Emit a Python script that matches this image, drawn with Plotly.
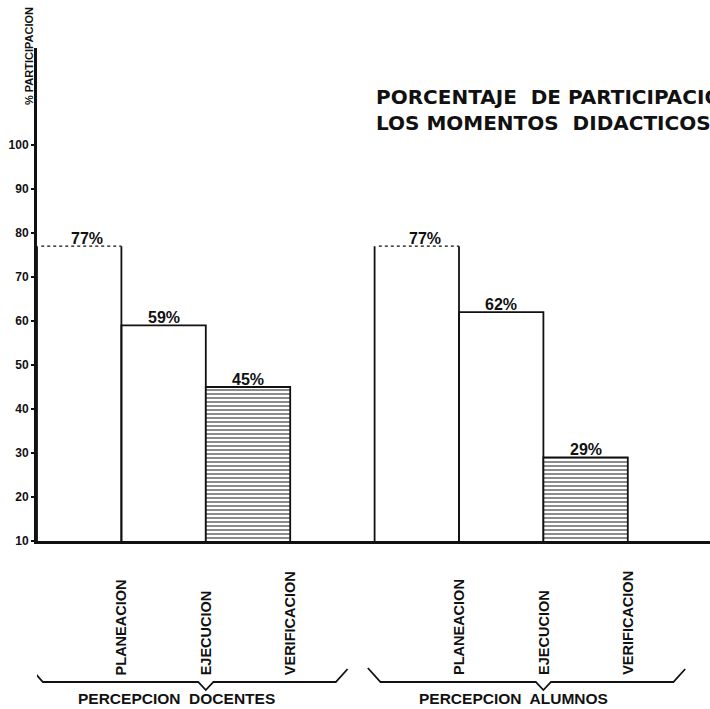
import plotly.graph_objects as go

# ---------------- data ----------------
moments = ["PLANEACION", "EJECUCION", "VERIFICACION"]
groups = ["PERCEPCION  DOCENTES", "PERCEPCION  ALUMNOS"]
docentes = [77, 59, 45]
alumnos = [77, 62, 29]
y_ticks = [10, 20, 30, 40, 50, 60, 70, 80, 90, 100]
title_text = "PORCENTAJE  DE PARTICIPACION EN<br>LOS MOMENTOS  DIDACTICOS"
y_title = "% PARTICIPACION"

# ---------------- geometry ----------------
W, H = 710, 709
ML, MR, MT, MB = 37, 0, 48, 168
PW, PH = W - ML - MR, H - MT - MB
GAP = 1  # one empty slot between groups

series = [docentes, alumnos]
positions, values, labels = [], [], []
for g, vals in enumerate(series):
    for m, v in enumerate(vals):
        positions.append(g * (len(moments) + GAP) + m)
        values.append(v)
        labels.append(moments[m])

def px(x):  # pixel -> paper x
    return (x - ML) / PW

def py(y):  # pixel -> paper y
    return (MT + PH - y) / PH

BLACK = "#111111"
FONT = "Liberation Sans"

fig = go.Figure()

line_w = [0 if l == "PLANEACION" else 1.8 for l in labels]
pattern = ["-" if l == "VERIFICACION" else "" for l in labels]

fig.add_trace(go.Bar(
    x=positions, y=values, width=1,
    marker=dict(color="white",
                line=dict(color=BLACK, width=line_w),
                pattern=dict(shape=pattern, fgcolor="#1a1a1a", bgcolor="white",
                             size=4, solidity=0.5)),
    hoverinfo="skip", showlegend=False,
))

# PLANEACION bars: solid sides, dotted top
for p, v, l in zip(positions, values, labels):
    if l != "PLANEACION":
        continue
    fig.add_trace(go.Scatter(
        x=[p - 0.5, p - 0.5, None, p + 0.5, p + 0.5], y=[0, v, None, 0, v],
        mode="lines", line=dict(color=BLACK, width=1.8),
        hoverinfo="skip", showlegend=False))
    fig.add_trace(go.Scatter(
        x=[p - 0.45, p + 0.5], y=[v, v], mode="lines",
        line=dict(color=BLACK, width=1.3, dash="dot"),
        hoverinfo="skip", showlegend=False))

annotations = []
# value labels
for p, v, l in zip(positions, values, labels):
    annotations.append(dict(
        x=p, y=v, xref="x", yref="y", text=f"{v}%", showarrow=False,
        yanchor="bottom", xanchor="center", yshift=-3,
        xshift=8 if l == "PLANEACION" else 0,
        font=dict(family=FONT, size=16, color=BLACK, weight="bold")))

# category labels (vertical)
for p, l in zip(positions, labels):
    annotations.append(dict(
        x=p + 0.5, y=py(677), xref="x", yref="paper", text=l, textangle=-90,
        showarrow=False, xanchor="center", yanchor="bottom",
        font=dict(family=FONT, size=14.5, color=BLACK, weight="bold")))

# group labels
for g, name in enumerate(groups):
    first = g * (len(moments) + GAP)
    annotations.append(dict(
        x=first + 1.15, y=py(709), xref="x", yref="paper", text=name,
        showarrow=False, xanchor="center", yanchor="bottom",
        font=dict(family=FONT, size=15.5, color=BLACK, weight="bold")))

# y title
annotations.append(dict(
    x=px(29), y=py(56), xref="paper", yref="paper", text=y_title, textangle=-90,
    showarrow=False, xanchor="center", yanchor="middle",
    font=dict(family=FONT, size=11, color=BLACK, weight="bold")))

# chart title (runs off the right edge as in the scan)
annotations.append(dict(
    x=px(374), y=py(110), xref="paper", yref="paper", text=title_text,
    showarrow=False, xanchor="left", yanchor="middle", align="left",
    font=dict(family="DejaVu Sans", size=20, color=BLACK, weight="bold")))

# braces under each group
shapes = []
for g in range(len(groups)):
    first = g * (len(moments) + GAP)
    x0, xm, x1 = first - 0.58, first + 1.5, first + 3.18
    pts = [(x0, py(668)), (x0 + 0.15, py(682)), (xm - 0.09, py(682)),
           (xm, py(690)), (xm + 0.09, py(682)), (x1 - 0.14, py(682)), (x1, py(669))]
    path = "M " + " L ".join(f"{x},{y}" for x, y in pts)
    shapes.append(dict(type="path", path=path, xref="x", yref="paper",
                       line=dict(color=BLACK, width=1.8)))

fig.update_layout(
    width=W, height=H,
    margin=dict(l=ML, r=MR, t=MT, b=MB, pad=0),
    paper_bgcolor="white", plot_bgcolor="white",
    annotations=annotations, shapes=shapes,
    bargap=0,
    xaxis=dict(range=[-0.5, -0.5 + PW / 84.4], showgrid=False, zeroline=False,
               showticklabels=False, ticks="", showline=True, linecolor=BLACK,
               linewidth=2.5, fixedrange=True),
    yaxis=dict(range=[10, 10 + PH / 4.4], showgrid=False, zeroline=False,
               tickvals=y_ticks, ticktext=[str(t) for t in y_ticks],
               ticks="outside", ticklen=3, tickwidth=2, tickcolor=BLACK,
               tickfont=dict(family=FONT, size=12, color=BLACK, weight="bold"),
               showline=True, linecolor=BLACK, linewidth=3, fixedrange=True),
)

fig.write_html(
    "out.html",
    config={"displayModeBar": False, "staticPlot": True},
    post_script="document.body.style.margin='0';document.body.style.overflow='hidden';",
)
